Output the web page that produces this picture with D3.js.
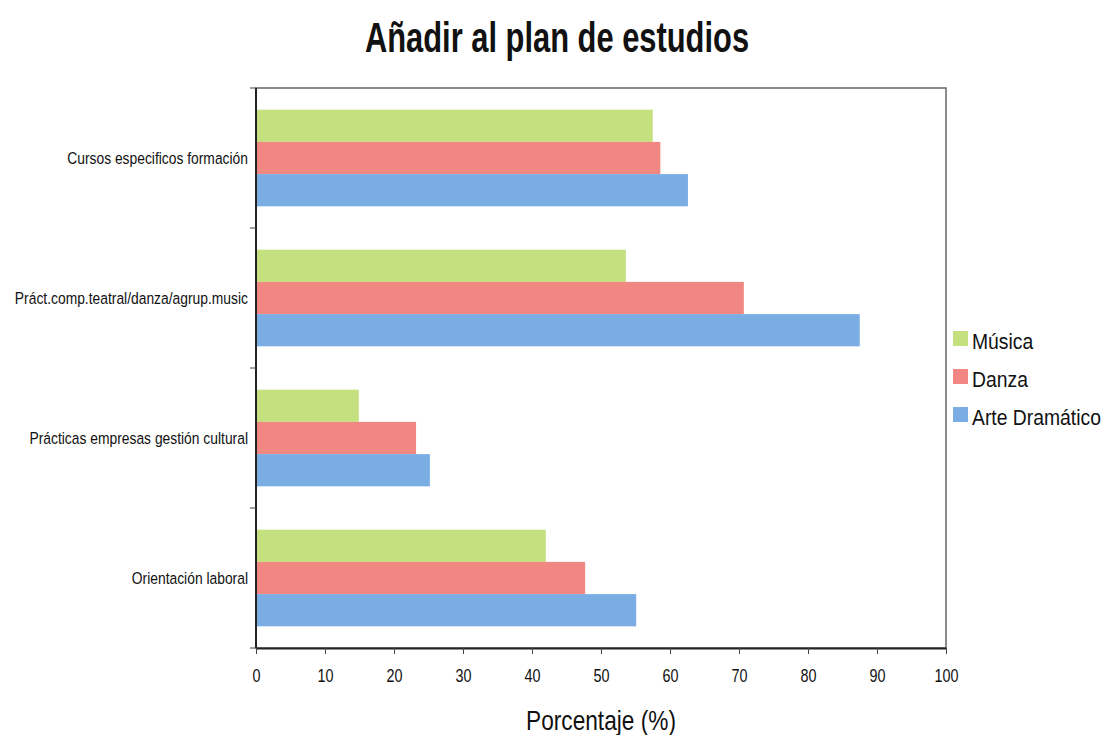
<!DOCTYPE html>
<html>
<head>
<meta charset="utf-8">
<script src="https://cdn.jsdelivr.net/npm/d3@7/dist/d3.min.js"></script>
<style>
  body { margin: 0; background: #fff; }
  text { font-family: "Liberation Sans", Arial, Helvetica, sans-serif; fill: #111; }
</style>
</head>
<body>
<svg id="chart" width="1107" height="735"></svg>
<script>
// data
const categories = ["Cursos especificos formación", "Práct.comp.teatral/danza/agrup.music",
                    "Prácticas empresas gestión cultural", "Orientación laboral"];
const series = ["Música", "Danza", "Arte Dramático"];
const musica = [57.5, 53.6, 14.9, 42.0];
const danza = [58.6, 70.7, 23.2, 47.7];
const arte = [62.6, 87.5, 25.2, 55.1];
const xTicks = [0, 10, 20, 30, 40, 50, 60, 70, 80, 90, 100];
const colors = ["#c5e07f", "#f08783", "#7aade3"];

const values = [musica, danza, arte];

var svg = d3.select("#chart");
const plotLeft = 256, plotRight = 946, plotTop = 88, plotBottom = 648;

let x = d3.scaleLinear().domain([0, 100]).range([plotLeft, plotRight]);
let y = d3.scaleBand().domain(categories).range([plotTop, plotBottom]).paddingInner(0.31).paddingOuter(0.155);
let yInner = d3.scaleBand().domain(series).range([0, y.bandwidth()]);

// the reference uses a condensed face, so squeeze the text horizontally
function place(sel, px, py, sx) {
  return sel.attr("x", 0).attr("y", 0)
    .attr("transform", "translate(" + px + "," + py + ") scale(" + sx + ",1)");
}

// title
place(svg.append("text"), 557, 52, 0.735)
  .attr("text-anchor", "middle")
  .style("font-size", "42px").style("font-weight", "bold")
  .text("Añadir al plan de estudios");

// frame
svg.append("rect")
  .attr("x", plotLeft).attr("y", plotTop)
  .attr("width", plotRight - plotLeft).attr("height", plotBottom - plotTop)
  .attr("fill", "none").attr("stroke", "#666").attr("stroke-width", 1.5);

// bars
let groups = svg.append("g").selectAll("g")
  .data(categories)
  .enter().append("g")
    .attr("transform", d => "translate(0," + y(d) + ")");

groups.selectAll("rect")
  .data((d, i) => series.map((s, j) => ({ s: s, v: values[j][i], c: colors[j] })))
  .enter().append("rect")
    .attr("x", x(0))
    .attr("y", d => yInner(d.s))
    .attr("width", d => x(d.v) - x(0))
    .attr("height", yInner.bandwidth())
    .attr("fill", d => d.c);

// x axis
let xAxis = svg.append("g")
  .attr("transform", "translate(0," + plotBottom + ")")
  .call(d3.axisBottom(x).tickValues(xTicks).tickSize(6).tickSizeOuter(0).tickPadding(12));
xAxis.select(".domain").attr("stroke", "#222").attr("stroke-width", 2);
xAxis.selectAll(".tick line").attr("stroke", "#444");
xAxis.selectAll(".tick text")
  .attr("y", 0).attr("dy", null)
  .attr("transform", "translate(0,34) scale(0.8,1)")
  .style("font-size", "18px").attr("fill", "#111");

// y axis: ticks at group boundaries
let bounds = d3.range(categories.length + 1).map(i => plotTop + i * (plotBottom - plotTop) / categories.length);
svg.append("line")
  .attr("x1", plotLeft).attr("x2", plotLeft).attr("y1", plotTop).attr("y2", plotBottom)
  .attr("stroke", "#222").attr("stroke-width", 2);
svg.append("g").selectAll("line")
  .data(bounds)
  .enter().append("line")
    .attr("x1", plotLeft - 6).attr("x2", plotLeft)
    .attr("y1", d => d).attr("y2", d => d)
    .attr("stroke", "#444");

svg.append("g").selectAll("text")
  .data(categories)
  .enter().append("text")
    .attr("x", 0).attr("y", 0)
    .attr("transform", d => "translate(" + (plotLeft - 8) + "," + (y(d) + y.bandwidth() / 2 + 6) + ") scale(0.84,1)")
    .attr("text-anchor", "end")
    .style("font-size", "16.5px")
    .text(d => d);

// axis title
place(svg.append("text"), 601, 730, 0.81)
  .attr("text-anchor", "middle")
  .style("font-size", "28px")
  .text("Porcentaje (%)");

// legend
let legend = svg.append("g").selectAll("g")
  .data(series)
  .enter().append("g")
    .attr("transform", (d, i) => "translate(953," + (331 + i * 38) + ")");
legend.append("rect")
  .attr("x", 0).attr("y", 0).attr("width", 15).attr("height", 15)
  .attr("fill", (d, i) => colors[i]);
legend.append("text")
  .attr("x", 0).attr("y", 0)
  .attr("transform", "translate(19,18) scale(0.86,1)")
  .style("font-size", "22.5px")
  .text(d => d);
</script>
</body>
</html>
